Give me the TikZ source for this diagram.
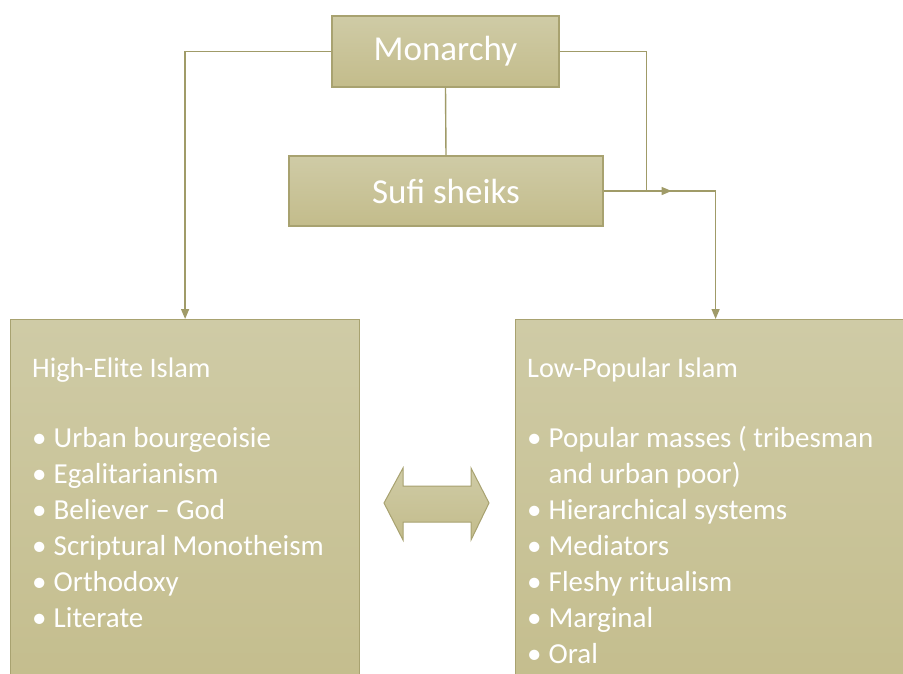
\documentclass[tikz,border=0pt]{standalone}
\usepackage{fontspec}
\setmainfont{Carlito}
\usetikzlibrary{positioning,arrows.meta,calc,decorations.markings}
\definecolor{olivetop}{RGB}{207,203,166}
\definecolor{olivebot}{RGB}{195,188,139}
\definecolor{oliveedge}{RGB}{168,162,112}
\definecolor{oliveln}{RGB}{160,155,104}
\newcommand{\itm}{\makebox[21.5pt][l]{\textbullet}}
\newcommand{\hd}[1]{{\fontsize{28.3}{36}\selectfont #1}}
\tikzset{
  shade/.style={draw=oliveedge,line width=1.2pt,top color=olivetop,bottom color=olivebot},
  box/.style={shade,rectangle,inner sep=0pt},
  hbox/.style={box,text=white,font=\fontsize{35}{42}\selectfont},
  lnk/.style={draw=oliveln,line width=1.4pt},
  tip/.style={-{Triangle[length=10pt,width=8pt]}},
  midtip/.style={postaction={decorate},decoration={markings,
      mark=at position #1 with {\arrow{Triangle[length=10pt,width=8pt]}}}},
  lst/.style={anchor=base west,align=left,inner sep=0pt,text=white,
    font=\fontsize{29}{36}\selectfont},
}

\begin{document}
\begin{tikzpicture}[x=1pt,y=-1pt]
  \useasboundingbox (0,0) rectangle (903,673);
  \clip (0,0) rectangle (903,673);
  % top of the hierarchy
  \node[hbox,minimum width=227pt,minimum height=71pt] (mon) at (445.5,51.5) {Monarchy};
  \node[hbox,minimum width=314pt,minimum height=70pt] (sufi) at (446,191) {Sufi sheiks};
  % the two islams
  \node[box,anchor=north west,minimum width=349pt,minimum height=400pt] (high) at (10,319) {};
  \node[box,anchor=north west,minimum width=400pt,minimum height=400pt] (low) at (515,319) {};
  % base anchor sits on the last line
  \node[lst] (hightxt) at (32,627) {\hd{High-Elite Islam}\\[34pt]
    \itm Urban bourgeoisie\\ \itm Egalitarianism\\ \itm Believer -- God\\
    \itm Scriptural Monotheism\\ \itm Orthodoxy\\ \itm Literate};
  \node[lst] (lowtxt) at (527,663) {\hd{Low-Popular Islam}\\[34pt]
    \itm Popular masses ( tribesman\\ \hspace*{21.5pt}and urban poor)\\
    \itm Hierarchical systems\\ \itm Mediators\\ \itm Fleshy ritualism\\
    \itm Marginal\\ \itm Oral};
  % connectors
  \coordinate (mj) at ($(sufi.east)+(43,0)$);
  \draw[lnk,tip] (mon.west) -| (high.north);
  \draw[lnk] (mon.south) -- (sufi.north);
  \draw[lnk] (mon.east) -| (mj);
  \draw[lnk,tip,midtip=68pt] (sufi.east) -- (sufi.east -| low.north) -- (low.north);
  % two-way arrow between them
  \path[shade,line width=1pt] (384,503) -- (403,468) -- (403,486) -- (471,486) -- (471,468)
    -- (489,503) -- (471,540) -- (471,522) -- (403,522) -- (403,540) -- cycle;
\end{tikzpicture}
\end{document}
